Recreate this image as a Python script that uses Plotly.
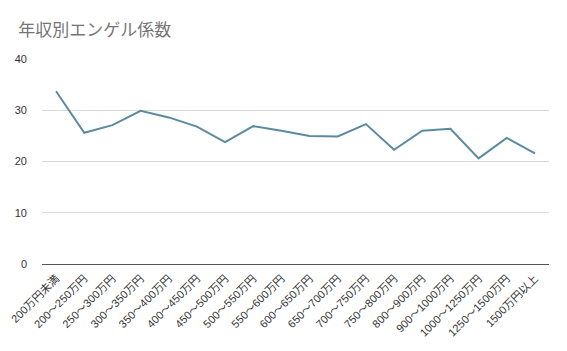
import plotly.graph_objects as go

categories = ["200万円未満", "200～250万円", "250～300万円", "300～350万円", "350～400万円",
              "400～450万円", "450～500万円", "500～550万円", "550～600万円", "600～650万円",
              "650～700万円", "700～750万円", "750～800万円", "800～900万円", "900～1000万円",
              "1000～1250万円", "1250～1500万円", "1500万円以上"]
engel = [33.7, 25.6, 27.1, 29.9, 28.6, 26.8, 23.8, 26.9, 26.0, 25.0,
         24.9, 27.3, 22.3, 26.0, 26.4, 20.6, 24.6, 21.6]
yticks = [0, 10, 20, 30, 40]

font_fam = "Liberation Sans, Noto Sans CJK JP, sans-serif"

fig = go.Figure(go.Scatter(
    x=categories, y=engel, mode="lines",
    line=dict(color="#5a8ba0", width=2),
))
fig.update_layout(
    width=567, height=351,
    margin=dict(l=42, r=18, t=59, b=87, autoexpand=False),
    paper_bgcolor="white", plot_bgcolor="white",
    showlegend=False,
    title=dict(text="年収別エンゲル係数", x=0.032, xanchor="left", y=0.915, yanchor="middle",
               font=dict(family="Noto Sans CJK JP, sans-serif", size=17, color="#757575")),
    font=dict(family=font_fam, color="#333333"),
)
fig.update_xaxes(
    type="category", tickangle=-45, tickfont=dict(size=11, color="#333333"),
    range=[-0.5, len(categories) - 0.5],
    showgrid=False, showline=False, ticks="", zeroline=False,
    ticklabelstandoff=5, automargin=False,
)
fig.update_yaxes(
    range=[0, 40], tickvals=yticks, tickfont=dict(size=11, color="#333333"),
    showgrid=True, gridcolor="#d9d9d9", gridwidth=1,
    zeroline=True, zerolinecolor="#555555", zerolinewidth=1,
    ticks="", ticklabelstandoff=14, automargin=False,
)
fig.write_html("out.html")
